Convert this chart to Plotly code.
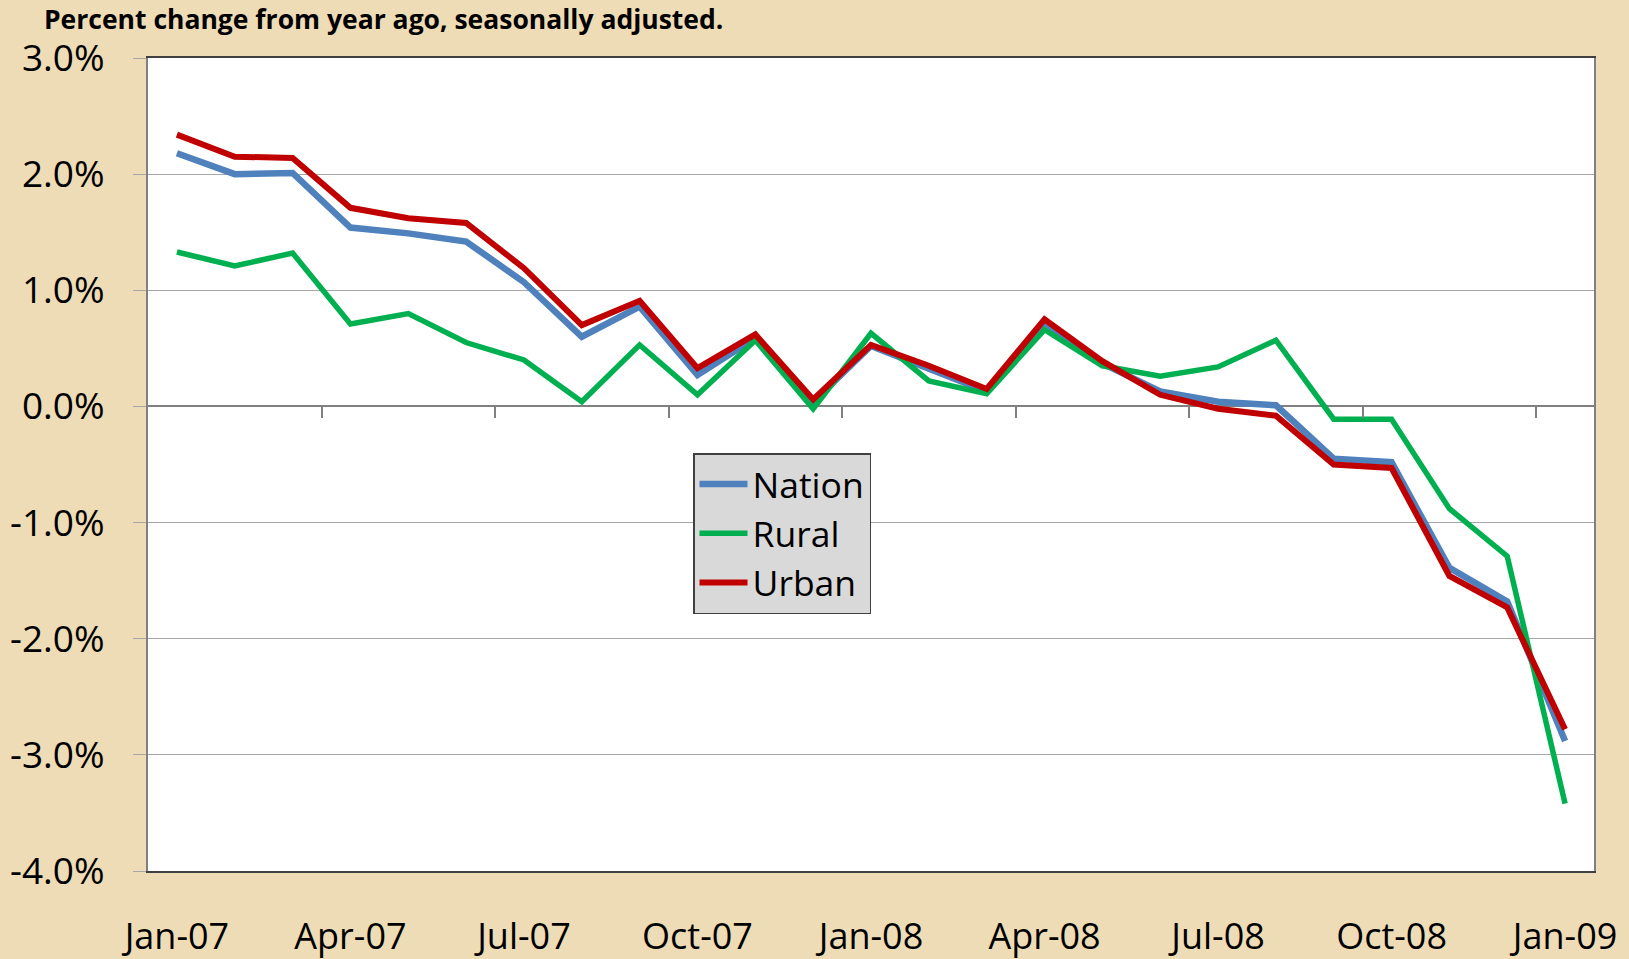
import plotly.graph_objects as go

months = ["Jan-07","Feb-07","Mar-07","Apr-07","May-07","Jun-07","Jul-07","Aug-07","Sep-07",
          "Oct-07","Nov-07","Dec-07","Jan-08","Feb-08","Mar-08","Apr-08","May-08","Jun-08",
          "Jul-08","Aug-08","Sep-08","Oct-08","Nov-08","Dec-08","Jan-09"]

nation = [2.18, 2.00, 2.01, 1.54, 1.49, 1.42, 1.07, 0.60, 0.86, 0.27, 0.59, 0.04,
          0.52, 0.32, 0.13, 0.72, 0.37, 0.13, 0.04, 0.01, -0.45, -0.48, -1.39, -1.68, -2.88]
rural = [1.33, 1.21, 1.32, 0.71, 0.80, 0.55, 0.40, 0.04, 0.53, 0.10, 0.57, -0.02,
         0.63, 0.22, 0.11, 0.66, 0.35, 0.26, 0.34, 0.57, -0.11, -0.11, -0.88, -1.29, -3.42]
urban = [2.34, 2.15, 2.14, 1.71, 1.62, 1.58, 1.19, 0.70, 0.91, 0.33, 0.62, 0.06,
         0.53, 0.35, 0.15, 0.75, 0.39, 0.10, -0.02, -0.08, -0.50, -0.53, -1.46, -1.73, -2.78]

y_tick_vals = [3, 2, 1, 0, -1, -2, -3, -4]
y_tick_text = ["3.0%", "2.0%", "1.0%", "0.0%", "-1.0%", "-2.0%", "-3.0%", "-4.0%"]
x_label_step = 3

FONT = "Open Sans"
x_idx = list(range(len(months)))

fig = go.Figure()
fig.add_trace(go.Scatter(x=x_idx, y=nation, name="Nation", mode="lines",
                         line=dict(color="#4F81BD", width=6.5)))
fig.add_trace(go.Scatter(x=x_idx, y=rural, name="Rural", mode="lines",
                         line=dict(color="#00B050", width=5.5)))
fig.add_trace(go.Scatter(x=x_idx, y=urban, name="Urban", mode="lines",
                         line=dict(color="#C00000", width=6)))

xrange = [-0.5, len(months) - 0.5]
boundaries = [i - 0.5 for i in range(x_label_step, len(months), x_label_step)]

fig.update_layout(
    width=1629, height=959,
    margin=dict(l=148, r=35, t=58, b=88, autoexpand=False),
    paper_bgcolor="#EEDCB6",
    plot_bgcolor="#FFFFFF",
    font=dict(family=FONT, color="#000000", size=36),
    title=dict(text="<b>Percent change from year ago, seasonally adjusted.</b>",
               font=dict(family=FONT, size=26.5, color="#000000"),
               x=0.027, xanchor="left", xref="container",
               y=1 - 20 / 959, yanchor="middle", yref="container"),
    showlegend=True,
    legend=dict(x=(693 - 148) / (1629 - 148 - 35), y=1 - (453 - 58) / (959 - 58 - 88),
                xanchor="left", yanchor="top",
                bgcolor="#D9D9D9", bordercolor="#404040", borderwidth=1.5,
                font=dict(family=FONT, size=35.5, color="#000000"),
                tracegroupgap=0, itemwidth=48),
    xaxis=dict(range=xrange, tickvals=x_idx[::x_label_step],
               ticktext=months[::x_label_step], automargin=False,
               showgrid=False, zeroline=False, ticks="",
               showline=True, mirror=True, linecolor="#404040", linewidth=2,
               ticklabelstandoff=33,
               tickfont=dict(family=FONT, size=36, color="#000000")),
    xaxis2=dict(range=xrange, overlaying="x", anchor="free", automargin=False,
                position=(0 - y_tick_vals[-1]) / (y_tick_vals[0] - y_tick_vals[-1]),
                side="bottom", tickvals=boundaries, ticks="outside", ticklen=11,
                tickcolor="#808080", tickwidth=1.5, showticklabels=False,
                showgrid=False, zeroline=False, showline=False),
    yaxis=dict(range=[y_tick_vals[-1], y_tick_vals[0]], tickvals=y_tick_vals,
               ticktext=y_tick_text, showgrid=True, gridcolor="#A6A6A6", gridwidth=1.2,
               automargin=False,
               zeroline=True, zerolinecolor="#808080", zerolinewidth=2,
               showline=True, mirror=True, linecolor="#808080", linewidth=2,
               ticks="outside", ticklen=13, tickcolor="#A6A6A6", tickwidth=1.2,
               ticklabelstandoff=21,
               tickfont=dict(family=FONT, size=37, color="#000000")),
)
# invisible trace to activate xaxis2 (zero-line tick marks)
fig.add_trace(go.Scatter(x=[xrange[0]], y=[0], xaxis="x2", mode="lines",
                         showlegend=False, hoverinfo="skip", line=dict(width=0)))

fig.write_html("out.html", config={"displayModeBar": False},
               post_script="document.body.style.margin='0';document.body.style.background='#EEDCB6';")
